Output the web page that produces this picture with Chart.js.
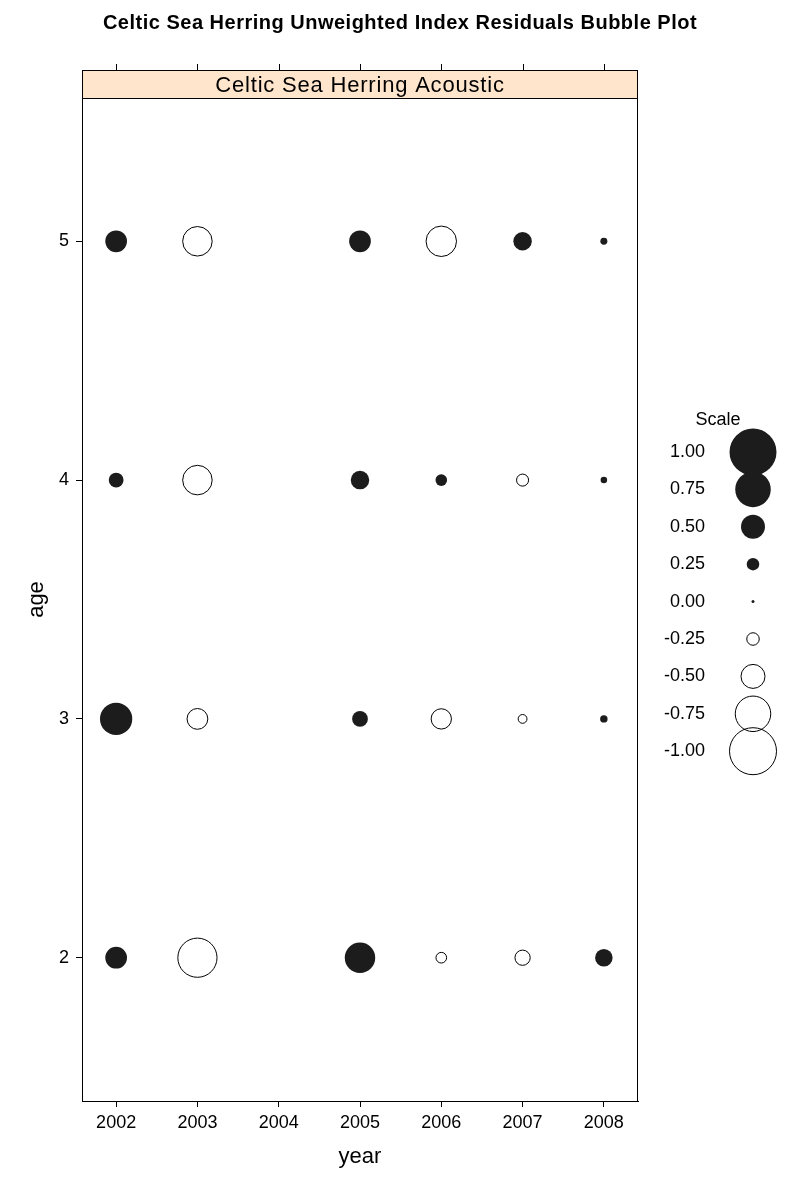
<!DOCTYPE html>
<html><head><meta charset="utf-8">
<script src="https://cdn.jsdelivr.net/npm/chart.js@4.4.1/dist/chart.umd.min.js"></script>
<style>html,body{margin:0;padding:0;background:#fff}#wrap{width:800px;height:1200px;position:relative}canvas{display:block}</style>
</head><body><div id="wrap"><canvas id="c" width="800" height="1200"></canvas></div>
<script>
// ---- data ----
const years = [2002, 2003, 2004, 2005, 2006, 2007, 2008];
const ages = [2, 3, 4, 5];
const resAge2 = [0.45, -0.83, null, 0.64, -0.21, -0.31, 0.36];
const resAge3 = [0.68, -0.43, null, 0.32, -0.42, -0.17, 0.14];
const resAge4 = [0.30, -0.62, null, 0.38, 0.23, -0.24, 0.12];
const resAge5 = [0.45, -0.62, null, 0.45, -0.64, 0.38, 0.13];
const residualsByAge = [resAge2, resAge3, resAge4, resAge5];
const scaleValues = [1.00, 0.75, 0.50, 0.25, 0.00, -0.25, -0.50, -0.75, -1.00];
const scaleLabels = ['1.00', '0.75', '0.50', '0.25', '0.00', '-0.25', '-0.50', '-0.75', '-1.00'];
const chartTitle = 'Celtic Sea Herring Unweighted Index Residuals Bubble Plot';
const panelTitle = 'Celtic Sea Herring Acoustic';

const FONT = "'Liberation Sans', Arial, Helvetica, sans-serif";
const FILL = '#1c1c1c';
const PX_PER_UNIT = 23;
function rad(v) { return Math.max(1.5, PX_PER_UNIT * Math.abs(v) + 0.5); }

const posPts = [], negPts = [];
ages.forEach((a, i) => {
  residualsByAge[i].forEach((v, j) => {
    if (v === null) return;
    const p = { x: years[j], y: a, r: rad(v) };
    (v >= 0 ? posPts : negPts).push(p);
  });
});

const decor = {
  id: 'decor',
  afterDraw(chart) {
    const ctx = chart.ctx, ca = chart.chartArea;
    const xs = chart.scales.x;
    const L = Math.round(ca.left) + 0.5, R = Math.round(ca.right) - 0.5;
    const T = Math.round(ca.top) + 0.5, B = Math.round(ca.bottom) + 0.5;
    ctx.save();
    // title
    ctx.fillStyle = '#000';
    ctx.font = 'bold 20px ' + FONT;
    ctx.textAlign = 'center'; ctx.textBaseline = 'middle';
    ctx.letterSpacing = '0.5px';
    ctx.fillText(chartTitle, 400, 23);
    // strip
    const sT = 70.5;
    ctx.letterSpacing = '0px';
    ctx.fillStyle = '#ffe5cc';
    ctx.fillRect(L, sT, R - L, T - sT);
    ctx.strokeStyle = '#000'; ctx.lineWidth = 1;
    ctx.strokeRect(L, sT, R - L, T - sT);
    ctx.fillStyle = '#000';
    ctx.font = '22px ' + FONT;
    ctx.letterSpacing = '0.8px';
    ctx.fillText(panelTitle, (ca.left + ca.right) / 2, 86);
    ctx.letterSpacing = '0px';
    // frame
    ctx.strokeRect(L, T, R - L, B - T);
    // top ticks
    ctx.beginPath();
    years.forEach(y => {
      const px = Math.round(xs.getPixelForValue(y)) + 0.5;
      ctx.moveTo(px, 64); ctx.lineTo(px, 70.5);
    });
    ctx.stroke();
    // legend
    ctx.font = '18px ' + FONT;
    ctx.textAlign = 'center';
    ctx.fillText('Scale', 718, 420);
    ctx.font = '18px ' + FONT;
    scaleValues.forEach((v, i) => {
      const cy = 452 + i * 37.4;
      ctx.textAlign = 'right';
      ctx.fillStyle = '#000';
      ctx.fillText(scaleLabels[i], 705, cy);
      ctx.beginPath();
      ctx.arc(753, cy, rad(v), 0, Math.PI * 2);
      if (v >= 0) { ctx.fillStyle = FILL; ctx.fill(); }
      else { ctx.strokeStyle = '#000'; ctx.stroke(); }
    });
    ctx.restore();
  }
};

new Chart(document.getElementById('c'), {
  type: 'bubble',
  data: {
    datasets: [
      { label: 'positive', data: posPts, backgroundColor: FILL, borderColor: FILL, borderWidth: 0 },
      { label: 'negative', data: negPts, backgroundColor: 'rgba(255,255,255,0)', borderColor: '#000', borderWidth: 1 }
    ]
  },
  options: {
    responsive: false, animation: false, events: [],
    layout: { padding: { left: 0, right: 162, top: 98, bottom: 0 } },
    plugins: { legend: { display: false }, tooltip: { enabled: false }, title: { display: false } },
    scales: {
      x: {
        type: 'linear', position: 'bottom', min: 2001.58, max: 2008.42,
        afterBuildTicks: s => { s.ticks = years.map(v => ({ value: v })); },
        ticks: { callback: v => String(v), font: { family: FONT, size: 18 }, color: '#000', padding: 5, autoSkip: false, maxRotation: 0 },
        grid: { display: true, drawOnChartArea: false, drawTicks: true, tickLength: 6, color: '#000', lineWidth: 1 },
        border: { display: true, color: '#000', width: 1 },
        title: { display: true, text: 'year', font: { family: FONT, size: 22 }, color: '#000', padding: { top: 0, bottom: 30 } },
        afterFit: s => { s.height = 99; }
      },
      y: {
        type: 'linear', position: 'left', min: 1.4, max: 5.6,
        afterBuildTicks: s => { s.ticks = ages.map(v => ({ value: v })); },
        ticks: { callback: v => String(v), font: { family: FONT, size: 18 }, color: '#000', padding: 7, autoSkip: false },
        grid: { display: true, drawOnChartArea: false, drawTicks: true, tickLength: 6, color: '#000', lineWidth: 1 },
        border: { display: true, color: '#000', width: 1 },
        title: { display: true, text: 'age', font: { family: FONT, size: 22 }, color: '#000', padding: { top: 24, bottom: 0 } },
        afterFit: s => { s.width = 82; }
      }
    }
  },
  plugins: [decor]
});
</script>
</body></html>
